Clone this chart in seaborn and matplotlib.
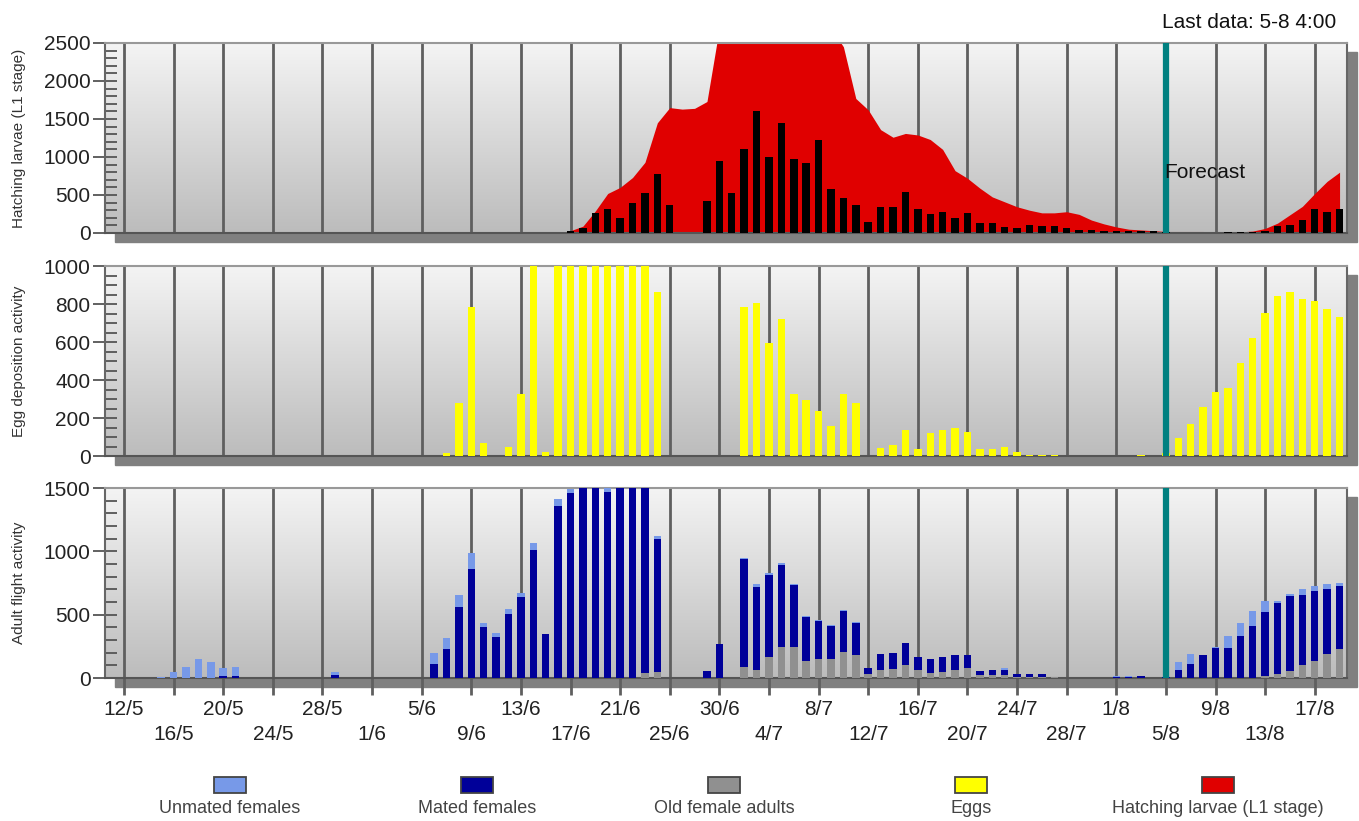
import numpy as np
import pandas as pd
import matplotlib
matplotlib.use("Agg")
import matplotlib.pyplot as plt
import seaborn as sns
from matplotlib.colors import LinearSegmentedColormap
from matplotlib.patches import Rectangle
from matplotlib.ticker import MultipleLocator

# x position = day slot counted from 12/5 (one slot per day, a gridline every 4 slots)
days = list(range(99))

date_labels = ["12/5", "16/5", "20/5", "24/5", "28/5", "1/6", "5/6", "9/6", "13/6",
               "17/6", "21/6", "25/6", "30/6", "4/7", "8/7", "12/7", "16/7", "20/7",
               "24/7", "28/7", "1/8", "5/8", "9/8", "13/8", "17/8"]
date_ticks = list(range(0, 97, 4))
forecast_day = 84

# hatching larvae, smoothed curve (red area)
larvae_area = [0] * 30 + [
    0, 0, 0, 0, 0, 0, 30, 90, 290, 520,
    600, 730, 930, 1450, 1650, 1630, 1640, 1730, 2700, 3000,
    3200, 3300, 3300, 3200, 3100, 3000, 2900, 2700, 2450, 1770,
    1620, 1360, 1260, 1310, 1290, 1230, 1100, 820, 720, 590,
    475, 410, 345, 300, 265, 265, 280, 245, 170, 120,
    80, 50, 40, 30, 20, 20, 20, 20, 0, 10,
    15, 25, 60, 130, 240, 350, 520, 680, 800]

# hatching larvae, daily (black bars)
larvae_daily = [0] * 30 + [
    0, 0, 0, 0, 0, 0, 25, 65, 260, 320,
    200, 390, 520, 780, 370, 0, 0, 420, 950, 525,
    1100, 1600, 1000, 1450, 970, 925, 1220, 575, 465, 370,
    145, 340, 340, 545, 315, 250, 275, 195, 265, 135,
    135, 80, 65, 110, 95, 95, 65, 40, 40, 30,
    25, 20, 20, 20, 10, 5, 0, 0, 0, 10,
    10, 10, 20, 90, 110, 170, 310, 275, 310]

eggs = [0] * 20 + [
    0, 0, 0, 0, 0, 0, 17, 280, 785, 68,
    0, 45, 325, 1100, 20, 1100, 1100, 1100, 1100, 1100,
    1100, 1100, 1100, 865, 0, 0, 0, 0, 0, 0,
    785, 805, 593, 721, 326, 295, 238, 158, 326, 279,
    0, 44, 58, 137, 35, 119, 137, 146, 126, 35,
    37, 46, 20, 7, 7, 7, 0, 0, 0, 0,
    0, 0, 5, 0, 15, 97, 168, 260, 338, 360,
    487, 623, 754, 844, 865, 826, 816, 774, 733]

unmated = [
    0, 0, 0, 8, 50, 90, 150, 124, 61, 75,
    0, 0, 0, 0, 0, 0, 0, 30, 0, 0,
    0, 0, 0, 0, 0, 92, 89, 92, 126, 37,
    32, 40, 26, 53, 0, 53, 32, 0, 0, 60,
    0, 0, 0, 26, 0, 0, 0, 0, 0, 0,
    10, 24, 19, 13, 10, 5, 5, 5, 5, 5,
    0, 0, 0, 0, 0, 0, 0, 0, 0, 0,
    0, 13, 0, 0, 0, 0, 0, 0, 0, 0,
    10, 7, 0, 0, 0, 61, 79, 0, 7, 94,
    103, 116, 90, 15, 13, 48, 36, 42, 27]

mated = [
    0, 0, 0, 0, 0, 0, 0, 0, 15, 15,
    0, 0, 0, 0, 0, 0, 0, 20, 0, 0,
    0, 0, 0, 0, 0, 108, 229, 563, 858, 400,
    326, 505, 642, 1010, 347, 1358, 1458, 1600, 1600, 1470,
    1600, 1600, 1563, 1045, 0, 0, 0, 58, 268, 0,
    847, 653, 645, 650, 492, 347, 303, 261, 324, 255,
    44, 124, 126, 171, 105, 113, 118, 119, 106, 32,
    37, 43, 22, 20, 20, 5, 3, 3, 3, 3,
    5, 8, 12, 0, 10, 63, 110, 182, 240, 240,
    334, 413, 502, 563, 589, 552, 553, 513, 500]

old = [0] * 40 + [
    0, 0, 37, 50, 0, 0, 0, 0, 0, 0,
    90, 63, 168, 242, 242, 137, 150, 150, 208, 182,
    32, 63, 74, 103, 63, 37, 50, 63, 76, 26,
    26, 20, 10, 10, 10, 5, 0, 0, 0, 0,
    0, 0, 0, 0, 0, 0, 0, 0, 0, 0,
    0, 0, 16, 32, 58, 103, 137, 187, 226]

legend_labels = ["Unmated females", "Mated females", "Old female adults", "Eggs",
                 "Hatching larvae (L1 stage)"]
legend_colors = ["#7799e8", "#000099", "#909090", "#ffff00", "#e00000"]

sns.set_style("white")
plt.rcParams["font.family"] = ["Liberation Sans", "DejaVu Sans"]

W, H = 1359, 821
fig = plt.figure(figsize=(W / 100, H / 100), dpi=100)

bg_cmap = LinearSegmentedColormap.from_list("panel", ["#bcbcbc", "#f4f4f4"])


def px_box(left, top, right, bottom):
    return [left / W, 1 - bottom / H, (right - left) / W, (bottom - top) / H]


def make_panel(top, bottom, ymax, major, minor, ylabel):
    ax = fig.add_axes(px_box(105, top, 1347, bottom))
    # drop shadow under / right of the panel
    x0, y0, w, h = px_box(115, top + 9, 1357, bottom + 9)
    fig.add_artist(Rectangle((x0, y0), w, h, transform=fig.transFigure,
                             color="#808080", zorder=-1))
    grad = np.linspace(0, 1, 256).reshape(-1, 1)
    ax.imshow(grad, extent=[0, 1, 0, 1], transform=ax.transAxes, origin="lower",
              aspect="auto", cmap=bg_cmap, zorder=0)
    for d in date_ticks:
        ax.axvline(d, color="#5f5f5f", lw=2, zorder=1)
    ax.set_xlim(-1.53, 98.6)
    ax.set_ylim(0, ymax)
    ax.yaxis.set_major_locator(MultipleLocator(major))
    ax.yaxis.set_minor_locator(MultipleLocator(minor))
    ax.tick_params(axis="y", which="major", direction="inout", length=17, width=1.3,
                   color="#555555", labelsize=15, labelcolor="#222222", pad=2, left=True)
    ax.tick_params(axis="y", which="minor", direction="in", length=8.5, width=1.3,
                   color="#555555", left=True)
    ax.tick_params(axis="x", which="both", bottom=False, labelbottom=False)
    for side, c in [("left", "#666666"), ("right", "#666666"),
                    ("top", "#999999"), ("bottom", "#555555")]:
        ax.spines[side].set_color(c)
        ax.spines[side].set_linewidth(1.5)
        ax.spines[side].set_visible(True)
    fig.text(19 / W, 1 - (top + bottom) / 2 / H, ylabel, rotation=90, ha="center",
             va="center", fontsize=11, color="#333333")
    return ax


ax1 = make_panel(43, 233, 2500, 500, 100, "Hatching larvae (L1 stage)")
ax2 = make_panel(266, 456, 1000, 200, 50, "Egg deposition activity")
ax3 = make_panel(488, 678, 1500, 500, 100, "Adult flight activity")

# top: hatching larvae
ax1.fill_between(days, larvae_area, color="#e00000", lw=0, zorder=2)
sns.histplot(x=days, weights=larvae_daily, discrete=True, shrink=0.6, color="black",
             alpha=1, linewidth=0, ax=ax1, zorder=3)

# middle: eggs
sns.histplot(x=days, weights=eggs, discrete=True, shrink=0.6, color="#ffff00",
             alpha=1, linewidth=0, ax=ax2, zorder=3)

# bottom: adults, stacked
n = len(days)
adults = pd.DataFrame({
    "day": days * 3,
    "count": unmated + mated + old,
    "stage": [legend_labels[0]] * n + [legend_labels[1]] * n + [legend_labels[2]] * n,
})
sns.histplot(data=adults, x="day", weights="count", hue="stage",
             hue_order=legend_labels[:3], multiple="stack", discrete=True, shrink=0.6,
             palette=dict(zip(legend_labels[:3], legend_colors[:3])), alpha=1,
             linewidth=0, legend=False, ax=ax3, zorder=3)

for ax, ymax in [(ax1, 2500), (ax2, 1000), (ax3, 1500)]:
    ax.set_xlim(-1.53, 98.6)
    ax.set_ylim(0, ymax)
    ax.set_xlabel("")
    ax.set_ylabel("")
    ax.axvline(forecast_day, color="#008080", lw=4.5, zorder=5)

ax1.text(forecast_day - 0.1, 800, "Forecast", fontsize=15, ha="left", va="center",
         color="#111111", zorder=6)

# staggered date labels on the bottom panel
ax3.set_xticks(date_ticks[0::2])
ax3.set_xticklabels(date_labels[0::2])
ax3.set_xticks(date_ticks[1::2], minor=True)
ax3.set_xticklabels(date_labels[1::2], minor=True)
ax3.tick_params(axis="x", which="both", bottom=True, labelbottom=True, direction="out",
                length=12.5, width=2, color="#5f5f5f", labelsize=15,
                labelcolor="#222222")
ax3.tick_params(axis="x", which="major", pad=3)
ax3.tick_params(axis="x", which="minor", pad=21)

fig.text(1336 / W, 1 - 22 / H, "Last data: 5-8 4:00", ha="right", va="center",
         fontsize=15, color="#111111")

# legend: swatch above each label
centers = [230, 477, 724, 971, 1218]
for cx, lab, col in zip(centers, legend_labels, legend_colors):
    fig.add_artist(Rectangle(((cx - 16) / W, 1 - 793 / H), 32 / W, 16 / H,
                             transform=fig.transFigure, facecolor=col,
                             edgecolor="#444444", lw=1.3))
    fig.text(cx / W, 1 - 808 / H, lab, ha="center", va="center", fontsize=13,
             color="#444444")

fig.savefig("out.png", dpi=100)
